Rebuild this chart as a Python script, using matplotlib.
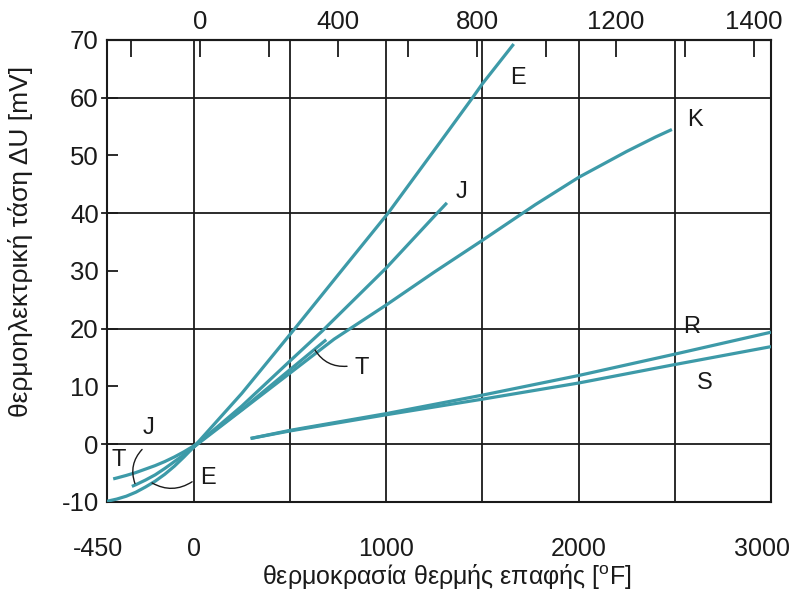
"""Thermocouple EMF vs hot-junction temperature (types E, J, K, T, R, S)."""

import matplotlib

matplotlib.use("Agg")
import matplotlib.pyplot as plt
from matplotlib.transforms import ScaledTranslation

plt.rcParams.update(
    {
        "font.family": ["Liberation Sans", "DejaVu Sans"],
        "mathtext.fontset": "custom",
        "mathtext.rm": "Liberation Sans",
        "mathtext.it": "Liberation Sans",
        "axes.unicode_minus": False,
    }
)

# --- data (x in °F, y in mV) ---
E_F = [-450, -440, -400, -350, -300, -250, -200, -150, -100, -50, 0, 250, 525, 750, 1010, 1250, 1449, 1500, 1663]
E_mV = [-9.9, -9.8, -9.5, -9.0, -8.3, -7.4, -6.4, -5.2, -3.8, -2.2, -0.5, 8.8, 20.0, 29.3, 40.0, 50.9, 60.0, 62.4, 69.3]

J_F = [-321, -300, -250, -200, -150, -100, -50, 0, 250, 500, 668, 1000, 1265, 1316]
J_mV = [-7.3, -7.0, -6.2, -5.3, -4.2, -3.0, -1.8, -0.5, 6.6, 14.4, 19.6, 30.5, 40.0, 41.8]

T_F = [-418, -400, -350, -300, -250, -200, -150, -100, -50, 0, 250, 500, 689]
T_mV = [-6.0, -5.85, -5.4, -4.9, -4.3, -3.7, -3.0, -2.2, -1.3, -0.3, 6.0, 12.9, 18.1]

K_F = [0, 250, 500, 730, 1000, 1250, 1500, 1776, 2000, 2250, 2400, 2485]
K_mV = [-0.5, 5.9, 12.3, 18.2, 24.1, 29.8, 35.3, 41.5, 46.2, 50.7, 53.2, 54.5]

R_F = [296, 500, 1000, 1500, 2000, 2500, 3000]
R_mV = [1.0, 2.4, 5.3, 8.5, 11.9, 15.6, 19.4]

S_F = [296, 500, 1000, 1500, 2000, 2500, 3000]
S_mV = [1.0, 2.3, 5.1, 7.8, 10.6, 13.8, 16.9]

CURVES = [(E_F, E_mV), (J_F, J_mV), (T_F, T_mV), (K_F, K_mV), (R_F, R_mV), (S_F, S_mV)]

# curve labels: text, x (°F), y (mV)
LABELS = [
    ("E", 1685, 63.4), ("K", 2605, 56.1), ("J", 1394, 43.7),
    ("R", 2590, 20.3), ("S", 2657, 10.6), ("T", 875, 13.2),
    ("J", -237, 2.8), ("T", -388, -2.7), ("E", 75, -5.8),
]

X_TICKS = [-450, 0, 1000, 2000, 3000]
X_GRID = [0, 500, 1000, 1500, 2000, 2500]
Y_TICKS = [-10, 0, 10, 20, 30, 40, 50, 60, 70]
Y_GRID = [0, 20, 40, 60]
C_TICKS = [-200, 0, 200, 400, 600, 800, 1000, 1200, 1400, 1600]
C_LABELS = ["", "0", "", "400", "", "800", "", "1200", "", "1400"]

TEAL = "#3d9aa8"
INK = "#1a1a1a"

fig = plt.figure(figsize=(7.97, 5.94), dpi=100)
ax = fig.add_axes([0.1343, 0.1549, 0.8331, 0.7778])

for xs, ys in CURVES:
    ax.plot(xs, ys, color=TEAL, lw=2.3, solid_capstyle="butt", solid_joinstyle="round", zorder=3)

ax.set_xlim(-450, 3000)
ax.set_ylim(-10, 70)

# grid: vertical every 500 °F, horizontal every 20 mV (short stub outside the left spine)
for gx in X_GRID:
    ax.axvline(gx, color=INK, lw=1.3, zorder=1)
for gy in Y_GRID:
    ax.axhline(gy, xmin=-0.008, xmax=1, color=INK, lw=1.3, zorder=1, clip_on=False)

ax.set_xticks(X_TICKS)
ax.set_yticks(Y_TICKS)
ax.tick_params(axis="x", length=0, labelsize=18, pad=25, colors=INK)
ax.tick_params(axis="y", direction="in", length=8, width=1.3, labelsize=18.5, pad=6, colors=INK)
for s in ax.spines.values():
    s.set_linewidth(1.5)
    s.set_color(INK)

# the edge labels sit a little left of the frame corners
xlabels = ax.get_xticklabels()
for lab in (xlabels[0], xlabels[-1]):
    lab.set_transform(lab.get_transform() + ScaledTranslation(-9 / 100, 0, fig.dpi_scale_trans))

top = ax.secondary_xaxis("top", functions=(lambda f: (f - 32) / 1.8, lambda c: c * 1.8 + 32))
top.set_xticks(C_TICKS, labels=C_LABELS)
top.tick_params(direction="in", length=12, width=1.3, labelsize=18.5, pad=4, colors=INK)
top.spines["top"].set_linewidth(1.5)

for txt, x, y in LABELS:
    ax.text(x, y, txt, fontsize=17, color=INK, ha="center", va="center", zorder=4)

# leader lines to the labels
lead = dict(arrowstyle="-", color=INK, lw=1.0, shrinkA=0, shrinkB=0)
ax.annotate("", xy=(631, 16.3), xytext=(797, 13.5),
            arrowprops=dict(lead, connectionstyle="arc3,rad=-0.3"))
ax.annotate("", xy=(-305, -6.8), xytext=(-268, -0.9),
            arrowprops=dict(lead, connectionstyle="arc3,rad=0.3"))
ax.annotate("", xy=(-216, -6.7), xytext=(-8, -6.5),
            arrowprops=dict(lead, connectionstyle="arc3,rad=-0.3"))

ax.set_xlabel(r"θερμοκρασία θερμής επαφής [$^{\mathrm{o}}$F]", fontsize=18, color=INK)
ax.xaxis.set_label_coords(0.512, -0.13)
ax.set_ylabel("θερμοηλεκτρική τάση ΔU [mV]", fontsize=19, color=INK)
ax.yaxis.set_label_coords(-0.111, 0.565)

fig.savefig("out.png", dpi=100, facecolor="white")
